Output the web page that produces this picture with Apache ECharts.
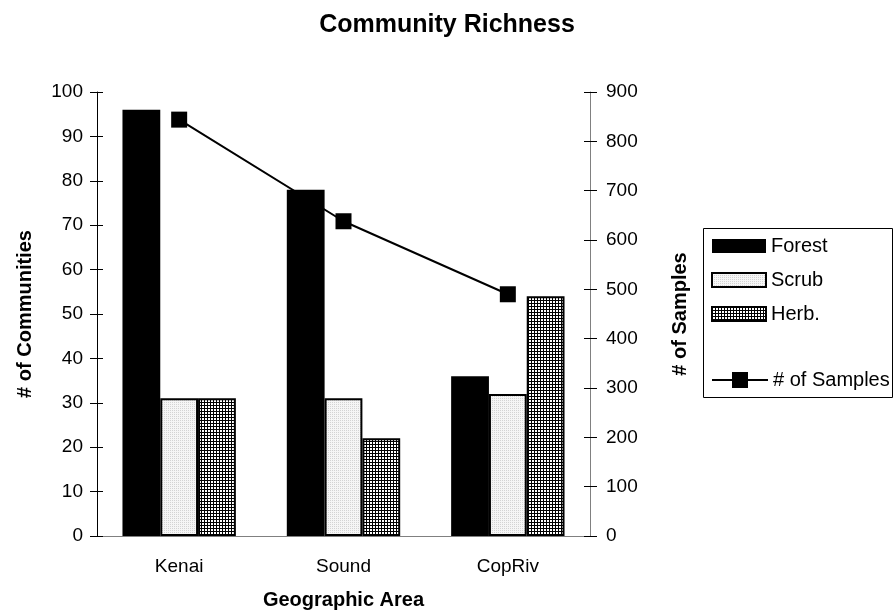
<!DOCTYPE html>
<html>
<head>
<meta charset="utf-8">
<script src="https://cdn.jsdelivr.net/npm/echarts@6/dist/echarts.min.js"></script>
<style>
  html, body { margin: 0; padding: 0; background: #fff; }
  #chart { width: 894px; height: 616px; }
</style>
</head>
<body>
<div id="chart"></div>
<script>
// Geographic areas and community counts per vegetation type
const areas = ['Kenai', 'Sound', 'CopRiv'];
const forest = [96, 78, 36];
const scrub = [31, 31, 32];
const herb = [31, 22, 54];
// Number of field samples per area (right axis)
const samples = [844, 638, 490];

const FONT = 'Liberation Sans, Arial, sans-serif';

// Fill patterns for the hatched bars
function makePattern(size, draw) {
  const c = document.createElement('canvas');
  c.width = size; c.height = size;
  const ctx = c.getContext('2d');
  draw(ctx);
  return { image: c, repeat: 'repeat' };
}
const scrubFill = makePattern(2, ctx => {
  ctx.fillStyle = '#f6f6f6'; ctx.fillRect(0, 0, 2, 2);
  ctx.fillStyle = '#d4d4d4'; ctx.fillRect(0, 0, 1, 1);
});
const herbFill = makePattern(3, ctx => {
  ctx.fillStyle = '#ffffff'; ctx.fillRect(0, 0, 3, 3);
  ctx.fillStyle = '#000000'; ctx.fillRect(0, 0, 3, 1); ctx.fillRect(0, 0, 1, 3);
});

const chart = echarts.init(document.getElementById('chart'), null, { renderer: 'canvas' });

const tickLabel = { color: '#000', fontSize: 19, fontFamily: FONT };
const nameStyle = { color: '#000', fontSize: 20, fontWeight: 'bold', fontFamily: FONT };
const legendText = { color: '#000', fontSize: 20, fontFamily: FONT };

chart.setOption({
  animation: false,
  backgroundColor: '#fff',
  title: {
    text: 'Community Richness',
    left: 'center',
    top: 8,
    textStyle: { color: '#000', fontSize: 25, fontWeight: 'bold', fontFamily: FONT }
  },
  grid: { left: 97, right: 304, top: 92, bottom: 80, containLabel: false },
  legend: [
    {
      orient: 'vertical',
      left: 711,
      top: 236,
      padding: 0,
      icon: 'rect',
      itemWidth: 54,
      itemHeight: 14,
      itemGap: 14,
      data: ['Forest', 'Scrub', 'Herb.'],
      textStyle: legendText,
      selectedMode: false
    },
    {
      orient: 'vertical',
      left: 711,
      top: 370,
      padding: 0,
      itemWidth: 56,
      itemHeight: 20,
      data: ['# of Samples'],
      textStyle: legendText,
      selectedMode: false
    }
  ],
  graphic: [{
    type: 'rect',
    shape: { x: 703.5, y: 228.5, width: 189, height: 169 },
    style: { fill: 'none', stroke: '#000', lineWidth: 1 },
    z: -1
  }],
  xAxis: [
    {
      type: 'category',
      data: areas,
      name: 'Geographic Area',
      nameLocation: 'middle',
      nameGap: 54,
      nameMoveOverlap: false,
      nameTextStyle: nameStyle,
      axisLine: { lineStyle: { color: '#808080', width: 1 } },
      axisTick: { length: 6, lineStyle: { color: '#808080' } },
      axisLabel: Object.assign({ margin: 21 }, tickLabel)
    },
    {
      type: 'category',
      data: areas,
      position: 'bottom',
      axisLine: { show: false },
      axisTick: { inside: true, length: 6, lineStyle: { color: '#808080' } },
      axisLabel: { show: false }
    }
  ],
  yAxis: [
    {
      type: 'value',
      min: 0, max: 100, interval: 10,
      name: '# of Communities',
      nameLocation: 'middle',
      nameRotate: 90,
      nameGap: 62,
      nameMoveOverlap: false,
      nameTextStyle: nameStyle,
      axisLine: { show: true, lineStyle: { color: '#000', width: 1 } },
      axisTick: { show: true, length: 7, lineStyle: { color: '#000' } },
      axisLabel: Object.assign({ margin: 14 }, tickLabel),
      splitLine: { show: false }
    },
    {
      type: 'value',
      position: 'right',
      min: 0, max: 900, interval: 100,
      name: '# of Samples',
      nameLocation: 'middle',
      nameRotate: 90,
      nameGap: 80,
      nameMoveOverlap: false,
      nameTextStyle: nameStyle,
      axisLine: { show: true, lineStyle: { color: '#808080', width: 1 } },
      axisTick: { show: true, length: 7, lineStyle: { color: '#000' } },
      axisLabel: Object.assign({ margin: 16 }, tickLabel),
      splitLine: { show: false }
    },
    {
      type: 'value',
      position: 'left',
      min: 0, max: 100, interval: 10,
      axisLine: { show: false },
      axisTick: { show: true, inside: true, length: 6, lineStyle: { color: '#000' } },
      axisLabel: { show: false },
      splitLine: { show: false }
    },
    {
      type: 'value',
      position: 'right',
      min: 0, max: 900, interval: 100,
      axisLine: { show: false },
      axisTick: { show: true, inside: true, length: 6, lineStyle: { color: '#000' } },
      axisLabel: { show: false },
      splitLine: { show: false }
    }
  ],
  series: [
    {
      name: 'Forest',
      type: 'bar',
      data: forest,
      barGap: '0%',
      barCategoryGap: '31%',
      itemStyle: { color: '#000', borderColor: '#000', borderWidth: 0 }
    },
    {
      name: 'Scrub',
      type: 'bar',
      data: scrub,
      itemStyle: { color: scrubFill, borderColor: '#000', borderWidth: 2 }
    },
    {
      name: 'Herb.',
      type: 'bar',
      data: herb,
      itemStyle: { color: herbFill, borderColor: '#000', borderWidth: 2 }
    },
    {
      name: '# of Samples',
      type: 'line',
      yAxisIndex: 1,
      data: samples,
      symbol: 'rect',
      symbolSize: 16,
      z: 5,
      lineStyle: { color: '#000', width: 2 },
      itemStyle: { color: '#000' }
    }
  ]
});
</script>
</body>
</html>
